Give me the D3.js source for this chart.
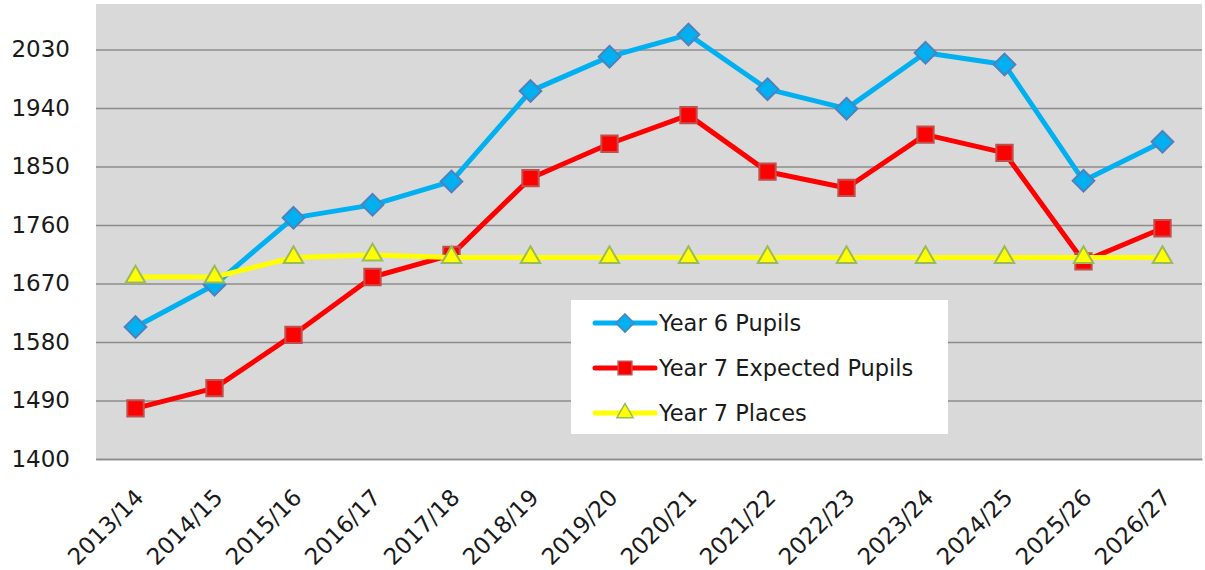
<!DOCTYPE html>
<html>
<head>
<meta charset="utf-8">
<script src="https://cdn.jsdelivr.net/npm/d3@7"></script>
<style>
    body { margin: 0; background: #fff; }
    text { font-family: "DejaVu Sans", Verdana, sans-serif; fill: #1a1a1a; }
</style>
</head>
<body>
<script>
let years = ["2013/14", "2014/15", "2015/16", "2016/17", "2017/18", "2018/19", "2019/20",
    "2020/21", "2021/22", "2022/23", "2023/24", "2024/25", "2025/26", "2026/27"];

let year6Pupils = [1603, 1668, 1771, 1791, 1827, 1966, 2019, 2053, 1969, 1939, 2025, 2007, 1828, 1888];
let year7Expected = [1478, 1509, 1591, 1680, 1714, 1832, 1885, 1929, 1842, 1817, 1899, 1871, 1704, 1755];
let year7Places = [1680, 1680, 1710, 1714, 1710, 1710, 1710, 1710, 1710, 1710, 1710, 1710, 1710, 1710];

let yTicks = [1400, 1490, 1580, 1670, 1760, 1850, 1940, 2030];

let width = 1205,
    height = 570,
    plotLeft = 96,
    plotRight = 1202,
    plotTop = 4,
    plotBottom = 459;

let svg = d3.select("body").append("svg")
    .attr("width", width)
    .attr("height", height);

let x = d3.scalePoint()
    .domain(years)
    .range([plotLeft, plotRight])
    .padding(0.5);

let y = d3.scaleLinear()
    .domain([1400, 2100])
    .range([plotBottom, plotTop]);

// plot background
svg.append("rect")
    .attr("x", plotLeft)
    .attr("y", plotTop)
    .attr("width", plotRight - plotLeft)
    .attr("height", plotBottom - plotTop)
    .attr("fill", "#d9d9d9");

// gridlines + y labels
let yAxis = svg.append("g")
    .attr("transform", `translate(${plotLeft},0)`)
    .call(d3.axisLeft(y).tickValues(yTicks).tickSize(-(plotRight - plotLeft)).tickPadding(26).tickFormat(d3.format("d")));
yAxis.select(".domain").remove();
yAxis.selectAll(".tick line").attr("stroke", "#8c8c8c").attr("stroke-width", 1.5);
yAxis.selectAll(".tick text")
    .attr("font-size", 23)
    .attr("fill", "#1a1a1a")
    .attr("font-family", "DejaVu Sans, Verdana, sans-serif");

// x axis labels, rotated
let xAxis = svg.append("g")
    .attr("transform", `translate(0,${plotBottom})`)
    .call(d3.axisBottom(x).tickSize(0).tickPadding(0));
xAxis.select(".domain").attr("stroke", "#8c8c8c").attr("stroke-width", 1.5);
xAxis.selectAll(".tick text")
    .attr("font-size", 23)
    .attr("fill", "#1a1a1a")
    .attr("font-family", "DejaVu Sans, Verdana, sans-serif")
    .attr("text-anchor", "end")
    .attr("dy", null)
    .attr("transform", "translate(9,40) rotate(-45)");

let series = [
    { name: "Year 6 Pupils", values: year6Pupils, line: "#00b0f0", fill: "#00b0f0", stroke: "#4f81bd", symbol: d3.symbolDiamond2, size: 300 },
    { name: "Year 7 Expected Pupils", values: year7Expected, line: "#ff0000", fill: "#ff0000", stroke: "#c0504d", symbol: d3.symbolSquare2, size: 340 },
    { name: "Year 7 Places", values: year7Places, line: "#ffff00", fill: "#ffff00", stroke: "#9bbb59", symbol: d3.symbolTriangle2, size: 270 }
];

let line = d3.line()
    .x((d, i) => x(years[i]))
    .y(d => y(d));

series.forEach(function (s) {
    let g = svg.append("g");
    g.append("path")
        .attr("d", line(s.values))
        .attr("fill", "none")
        .attr("stroke", s.line)
        .attr("stroke-width", 5)
        .attr("stroke-linejoin", "round");

    g.selectAll("path.marker")
        .data(s.values)
        .enter()
        .append("path")
        .attr("class", "marker")
        .attr("d", d3.symbol().type(s.symbol).size(s.size))
        .attr("transform", (d, i) => `translate(${x(years[i])},${y(d)})`)
        .attr("fill", s.fill)
        .attr("stroke", s.stroke)
        .attr("stroke-width", 2);
});

// legend
let legend = svg.append("g").attr("transform", "translate(571,300)");
legend.append("rect")
    .attr("width", 377)
    .attr("height", 134)
    .attr("fill", "#ffffff");

series.forEach(function (s, i) {
    let row = legend.append("g").attr("transform", `translate(0,${23 + i * 45})`);
    row.append("line")
        .attr("x1", 24).attr("x2", 84)
        .attr("stroke", s.line)
        .attr("stroke-width", 5)
        .attr("stroke-linecap", "round");
    row.append("path")
        .attr("d", d3.symbol().type(s.symbol).size(s.size * 0.7))
        .attr("transform", "translate(54,0)")
        .attr("fill", s.fill)
        .attr("stroke", s.stroke)
        .attr("stroke-width", 1.5);
    row.append("text")
        .attr("x", 88)
        .attr("dy", "0.35em")
        .attr("font-size", 22.5)
        .text(s.name);
});
</script>
</body>
</html>
